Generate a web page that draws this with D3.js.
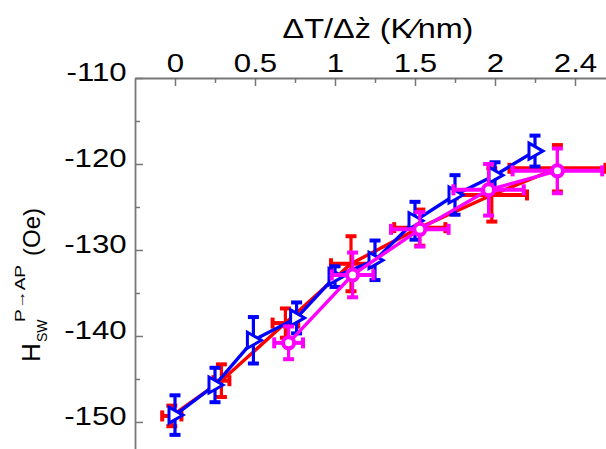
<!DOCTYPE html>
<html>
<head>
<meta charset="utf-8">
<script src="https://cdn.jsdelivr.net/npm/d3@7"></script>
<style>
  body { margin: 0; background: #fff; }
  text { font-family: "Liberation Sans", Arial, sans-serif; fill: #000; }
</style>
</head>
<body>
<script>
// values

const xTicks = [0, 0.5, 1, 1.5, 2, 2.5];
const xTickLabels = ["0", "0.5", "1", "1.5", "2", "2.4"];
const xMinorTicks = [0.25, 0.75, 1.25, 1.75, 2.25];
const yTicks = [-110, -120, -130, -140, -150];
const yMinorTicks = [-115, -125, -135, -145];

const redX    = [-0.02, 0.29, 0.69, 1.10, 1.53, 1.98, 2.39];
const redY    = [-149.3, -145.2, -138.5, -131.6, -127.4, -123.6, -120.5];
const redXErr = [0.06, 0.05, 0.08, 0.125, 0.16, 0.22, 0.3];
const redYErr = [1.2, 1.9, 1.7, 3.2, 2.1, 3.1, 2.7];

const blueX    = [0, 0.25, 0.49, 0.76, 1.0, 1.25, 1.5, 1.75, 2.0, 2.25];
const blueY    = [-149.2, -145.7, -140.5, -137.9, -133.1, -131.2, -126.6, -123.6, -121.3, -118.5];
const blueYErr = [2.3, 2.0, 2.7, 1.8, 1.2, 2.3, 2.2, 2.3, 1.5, 1.8];

const magX    = [0.71, 1.11, 1.53, 1.96, 2.39];
const magY    = [-140.8, -132.9, -127.6, -123.0, -120.8];
const magXErr = [0.09, 0.13, 0.18, 0.22, 0.28];
const magYErr = [1.9, 2.6, 2.0, 3.0, 2.6];

let svg = null;
let x, y = null;
const width = 606, height = 449;
const sx = 1.2; // picture is stretched sideways

appendSvg("body");
setupScales();
appendAxes();
appendSeries(redX, redY, redXErr, redYErr, "#ff0000", null);
appendSeries(blueX, blueY, null, blueYErr, "#0000ff", "triangle");
appendSeries(magX, magY, magXErr, magYErr, "#ff00ff", "circle");
appendLabels();

function appendSvg(domElement) {
  svg = d3.select(domElement).append("svg")
    .attr("width", width)
    .attr("height", height);
}

function setupScales() {
  x = d3.scaleLinear().domain([-0.25, 2.7]).range([135, 607]);
  y = d3.scaleLinear().domain([-110, -153.26]).range([78, 450]);
}

function appendAxes() {
  // minor ticks
  svg.append("g")
    .attr("transform", "translate(0,78)")
    .call(d3.axisTop(x).tickValues(xMinorTicks).tickSize(-5).tickFormat(""))
    .call(g => g.select(".domain").remove());
  svg.append("g")
    .attr("transform", "translate(135,0)")
    .call(d3.axisLeft(y).tickValues(yMinorTicks).tickSize(-5).tickFormat(""))
    .call(g => g.select(".domain").remove());

  const top = svg.append("g")
    .attr("transform", "translate(0,78)")
    .call(d3.axisTop(x).tickValues(xTicks).tickSize(-8).tickSizeOuter(0)
      .tickFormat((d, i) => xTickLabels[i]));
  top.selectAll(".tick text")
    .attr("y", -6)
    .attr("transform", `scale(${sx},1)`)
    .style("font-size", "26px");

  const left = svg.append("g")
    .attr("transform", "translate(135,0)")
    .call(d3.axisLeft(y).tickValues(yTicks).tickSize(-8).tickSizeOuter(0)
      .tickFormat(d => String(d)));
  left.selectAll(".tick text")
    .attr("x", -7)
    .attr("dy", "0.1em")
    .attr("transform", `scale(${sx},1)`)
    .style("font-size", "26px");

  svg.selectAll(".domain, .tick line")
    .attr("stroke", "#777")
    .attr("stroke-width", 1.5);
  svg.selectAll(".domain").attr("stroke-width", 1.8);
}

function appendSeries(xs, ys, xErr, yErr, color, marker) {
  const pts = xs.map((v, i) => ({x: v, y: ys[i],
    xe: xErr ? xErr[i] : 0, ye: yErr ? yErr[i] : 0}));
  const g = svg.append("g");

  g.append("path")
    .datum(pts)
    .attr("fill", "none")
    .attr("stroke", color)
    .attr("stroke-width", 3.4)
    .attr("d", d3.line().x(d => x(d.x)).y(d => y(d.y)));

  const cap = 5.5;
  const eb = g.selectAll(".eb").data(pts).enter().append("g");
  // vertical error bars
  eb.filter(d => d.ye > 0).each(function(d) {
    const s = d3.select(this);
    const cx = x(d.x), y0 = y(d.y + d.ye), y1 = y(d.y - d.ye);
    s.append("line").attr("x1", cx).attr("x2", cx).attr("y1", y0).attr("y2", y1)
      .attr("stroke", color).attr("stroke-width", 3.2);
    [y0, y1].forEach(v => s.append("line")
      .attr("x1", cx - cap).attr("x2", cx + cap).attr("y1", v).attr("y2", v)
      .attr("stroke", color).attr("stroke-width", 4));
  });
  // horizontal error bars
  eb.filter(d => d.xe > 0).each(function(d) {
    const s = d3.select(this);
    const cy = y(d.y), x0 = x(d.x - d.xe), x1 = x(d.x + d.xe);
    s.append("line").attr("x1", x0).attr("x2", x1).attr("y1", cy).attr("y2", cy)
      .attr("stroke", color).attr("stroke-width", 4);
    [x0, x1].forEach(v => s.append("line")
      .attr("x1", v).attr("x2", v).attr("y1", cy - cap).attr("y2", cy + cap)
      .attr("stroke", color).attr("stroke-width", 4));
  });

  if (marker === "triangle") {
    g.selectAll(".mk").data(pts).enter().append("path")
      .attr("d", "M-6,-8L8,0L-6,8Z")
      .attr("transform", d => `translate(${x(d.x)},${y(d.y)})`)
      .attr("fill", "#fff").attr("stroke", color).attr("stroke-width", 3);
  } else if (marker === "circle") {
    g.selectAll(".mk").data(pts).enter().append("circle")
      .attr("cx", d => x(d.x)).attr("cy", d => y(d.y)).attr("r", 5.5)
      .attr("fill", "#fff").attr("stroke", color).attr("stroke-width", 4);
  }
}

function appendLabels() {
  // top axis title
  svg.append("text")
    .attr("transform", `translate(378,38) scale(${sx},1)`)
    .attr("text-anchor", "middle")
    .style("font-size", "27px")
    .text("\u0394T/\u0394z\u0300 (K\u2044nm)");

  // left axis title
  const g = svg.append("g")
    .attr("transform", "translate(40,362) rotate(-90)");
  g.append("text").attr("x", 0).attr("y", 0).style("font-size", "26px").text("H");
  g.append("text").attr("x", 20).attr("y", 7).style("font-size", "14px").text("SW");
  g.append("text").attr("x", 40).attr("y", -15).style("font-size", "15px")
    .attr("textLength", 57).attr("lengthAdjust", "spacingAndGlyphs").text("P\u2192AP");
  g.append("text").attr("x", 106).attr("y", 0).style("font-size", "24px").text("(Oe)");
}
</script>
</body>
</html>
